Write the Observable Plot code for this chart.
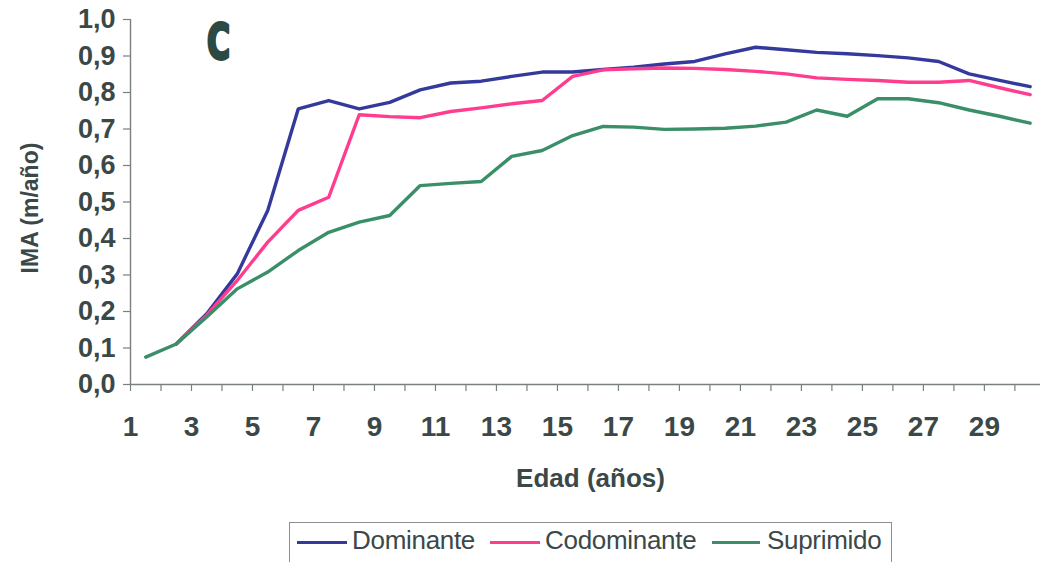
<!DOCTYPE html>
<html>
<head>
<meta charset="utf-8">
<script src="https://cdn.jsdelivr.net/npm/d3@7"></script>
<script src="https://cdn.jsdelivr.net/npm/@observablehq/plot@0.6"></script>
<style>
  html, body { margin: 0; padding: 0; background: #fff; }
  #wrap { position: relative; width: 1040px; height: 562px; overflow: hidden; }
  #legend { position: absolute; left: 289px; top: 522px; width: 603px; height: 60px;
            border: 1px solid #8a8f8f; box-sizing: border-box; }
  .sw { position: absolute; height: 3px; top: 18px; }
  .lt { position: absolute; top: 2px; font: 26px "Liberation Sans", Arial, sans-serif;
        color: #3b4848; letter-spacing: -0.3px; white-space: nowrap; }
</style>
</head>
<body>
<div id="wrap"></div>
<script>
// ---- data ----
const edad = [1,2,3,4,5,6,7,8,9,10,11,12,13,14,15,16,17,18,19,20,21,22,23,24,25,26,27,28,29,30];
const dominante = [null,0.111,0.194,0.303,0.477,0.755,0.778,0.755,0.773,0.807,0.826,0.831,0.844,0.856,0.856,0.863,0.869,0.878,0.885,0.906,0.924,0.917,0.910,0.906,0.901,0.895,0.885,0.851,0.833,0.816];
const codominante = [null,0.111,0.190,0.285,0.390,0.477,0.513,0.739,0.734,0.731,0.748,0.758,0.769,0.778,0.844,0.862,0.865,0.867,0.866,0.863,0.858,0.851,0.840,0.836,0.833,0.828,0.828,0.833,0.813,0.794];
const suprimido = [0.075,0.111,0.185,0.262,0.308,0.367,0.417,0.445,0.463,0.545,0.551,0.556,0.625,0.641,0.682,0.707,0.705,0.699,0.700,0.702,0.708,0.719,0.752,0.735,0.783,0.783,0.772,0.752,0.735,0.716];
const serieNames = ["Dominante", "Codominante", "Suprimido"];
const serieColors = ["#343a9c", "#ff3d8e", "#3a8f68"];
const yTicks = [0,0.1,0.2,0.3,0.4,0.5,0.6,0.7,0.8,0.9,1.0];
const xTicks = edad;
const xLabel = "Edad (años)";
const yLabel = "IMA (m/año)";
const panelLabel = "C";

const seriesValues = [dominante, codominante, suprimido];
const rows = [];
serieNames.forEach((name, s) => {
  edad.forEach((e, i) => {
    const v = seriesValues[s][i];
    if (v != null) rows.push({serie: name, edad: e, ima: v});
  });
});

const fmtY = d => d.toFixed(1).replace(".", ",");
const fmtX = d => (d % 2 === 1 ? String(d) : "");
const tickColor = "#3b4848";
const axisColor = "#7a7f7f";

const chart = Plot.plot({
  width: 1040,
  height: 512,
  marginLeft: 130,
  marginRight: 0,
  marginTop: 19,
  marginBottom: 128,
  style: {background: "#fff", fontFamily: "'Liberation Sans', Arial, sans-serif"},
  x: {domain: [1, 30.84], axis: null},
  y: {domain: [0, 1], axis: null},
  color: {domain: serieNames, range: serieColors},
  marks: [
    Plot.axisY({ticks: yTicks, tickFormat: fmtY, tickSize: 7, tickPadding: 8, label: null,
      fontSize: 27, fontWeight: "bold", fill: tickColor, stroke: axisColor, strokeWidth: 1.2}),
    Plot.axisX({ticks: xTicks, tickFormat: fmtX, tickSize: 7, tickPadding: 25, label: null,
      fontSize: 28, fontWeight: "bold", fill: tickColor, stroke: axisColor, strokeWidth: 1.2}),
    Plot.ruleX([1], {stroke: axisColor, strokeWidth: 1.4}),
    Plot.ruleY([0], {stroke: axisColor, strokeWidth: 1.4}),
    Plot.line(rows, {x: d => d.edad + 0.5, y: "ima", z: "serie", stroke: "serie", strokeWidth: 3.4,
      strokeLinejoin: "round", strokeLinecap: "round"}),
    Plot.text([yLabel], {text: d => d, frameAnchor: "left", textAnchor: "middle", lineAnchor: "middle",
      rotate: -90, dx: -100, dy: 6, fontSize: 23, fontWeight: "bold", fill: tickColor}),
    Plot.text([xLabel], {text: d => d, frameAnchor: "bottom", lineAnchor: "middle", dx: 5, dy: 94,
      fontSize: 26, fontWeight: "bold", fill: tickColor}),
    Plot.text([panelLabel], {text: d => d, frameAnchor: "top-left", textAnchor: "middle", lineAnchor: "middle",
      dx: 88, dy: 23, fontSize: 50, fontWeight: "bold", fill: "#2c4a44", stroke: "#2c4a44", strokeWidth: 3,
      fontFamily: "'DejaVu Sans Condensed', 'DejaVu Sans', sans-serif"})
  ]
});

const wrap = document.getElementById("wrap");
wrap.appendChild(chart);

// squeeze the panel letter horizontally to mimic the condensed heavy face
d3.select(chart).selectAll("text").filter(function() { return this.textContent === panelLabel; })
  .each(function() {
    const t = this.getAttribute("transform") || "";
    this.setAttribute("transform", t + " scale(0.7,1)");
  });

// legend below the svg
const legend = document.createElement("div");
legend.id = "legend";
const swatchX = [7, 200, 422];
const swatchW = [50, 50, 48];
const textX = [62, 255, 477];
serieNames.forEach((name, i) => {
  const sw = document.createElement("div");
  sw.className = "sw";
  sw.style.left = swatchX[i] + "px";
  sw.style.width = swatchW[i] + "px";
  sw.style.background = serieColors[i];
  legend.appendChild(sw);
  const t = document.createElement("div");
  t.className = "lt";
  t.style.left = textX[i] + "px";
  t.textContent = name;
  legend.appendChild(t);
});
wrap.appendChild(legend);
</script>
</body>
</html>
